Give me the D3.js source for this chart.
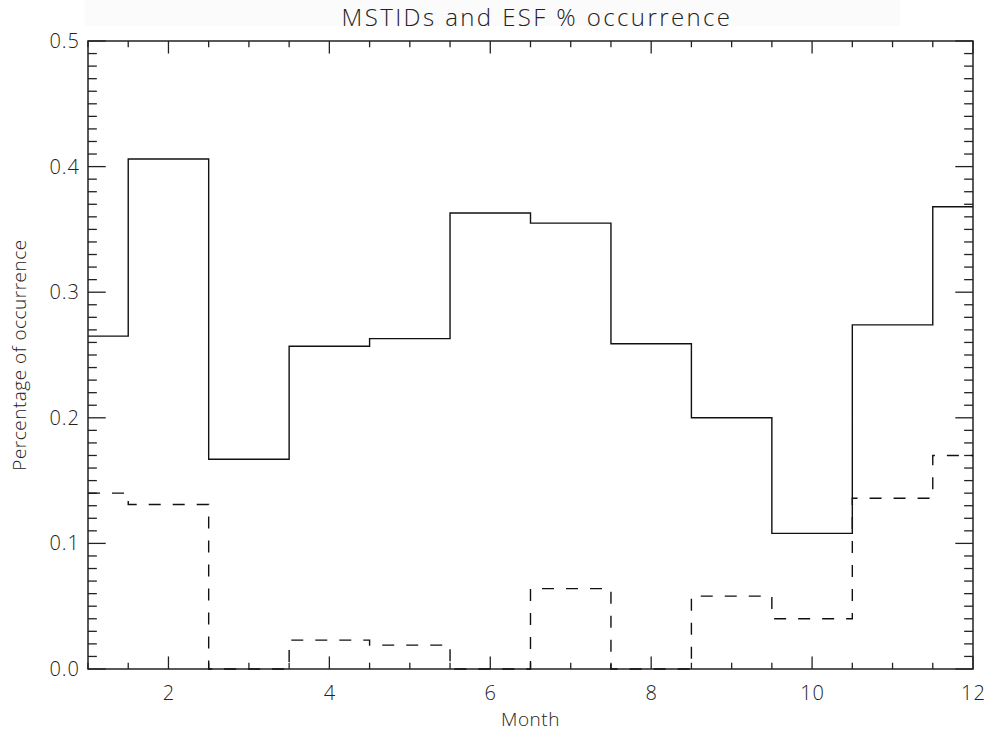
<!DOCTYPE html>
<html>
<head>
<meta charset="utf-8">
<script src="https://cdn.jsdelivr.net/npm/d3@7/dist/d3.min.js"></script>
<style>
  html, body { margin: 0; padding: 0; background: #ffffff; }
  svg { display: block; }
  text { font-family: "Open Sans", "Liberation Sans", sans-serif; font-weight: 300; fill: #222; }
</style>
</head>
<body>
<svg id="chart" width="987" height="732"></svg>
<script>
// ---- Data ----
const months = [1, 2, 3, 4, 5, 6, 7, 8, 9, 10, 11, 12];
const mstids = [0.265, 0.406, 0.167, 0.257, 0.263, 0.363, 0.355, 0.259, 0.200, 0.108, 0.274, 0.368];
const esf = [0.140, 0.131, 0.000, 0.023, 0.019, 0.000, 0.064, 0.000, 0.058, 0.040, 0.136, 0.170];
const xTickValues = [2, 4, 6, 8, 10, 12];
const yTickValues = [0.0, 0.1, 0.2, 0.3, 0.4, 0.5];
const titleText = "MSTIDs and ESF % occurrence";
const xLabel = "Month";
const yLabel = "Percentage of occurrence";

// ---- Layout ----
const svg = d3.select("#chart");
const pLeft = 88, pRight = 973, pTop = 41, pBottom = 669;
const x = d3.scaleLinear().domain([1, 12]).range([pLeft, pRight]);
const y = d3.scaleLinear().domain([0, 0.5]).range([pBottom, pTop]);
const plotW = pRight - pLeft, plotH = pBottom - pTop;
const xMajLen = 0.02 * plotH, yMajLen = 0.02 * plotW;

// faint title band
svg.append("rect").attr("x", 85).attr("y", 0).attr("width", 815).attr("height", 26).attr("fill", "#fbfbfb");

const axisColor = "#222";
const g = svg.append("g");

// Minor ticks
const xMinor = d3.range(1, 12.001, 0.5);
const yMinor = d3.range(0, 0.5001, 0.01);

xMinor.forEach(v => {
  const isMaj = Math.abs(v / 2 - Math.round(v / 2)) < 1e-6;
  const len = isMaj ? xMajLen : xMajLen / 2;
  g.append("line").attr("x1", x(v)).attr("x2", x(v)).attr("y1", pBottom).attr("y2", pBottom - len)
    .attr("stroke", axisColor).attr("stroke-width", 1.3);
  g.append("line").attr("x1", x(v)).attr("x2", x(v)).attr("y1", pTop).attr("y2", pTop + len)
    .attr("stroke", axisColor).attr("stroke-width", 1.3);
});
yMinor.forEach(v => {
  const isMaj = Math.abs(v * 10 - Math.round(v * 10)) < 1e-6;
  const len = isMaj ? yMajLen : yMajLen / 2;
  g.append("line").attr("x1", pLeft).attr("x2", pLeft + len).attr("y1", y(v)).attr("y2", y(v))
    .attr("stroke", axisColor).attr("stroke-width", 1.3);
  g.append("line").attr("x1", pRight).attr("x2", pRight - len).attr("y1", y(v)).attr("y2", y(v))
    .attr("stroke", axisColor).attr("stroke-width", 1.3);
});

// Frame
g.append("rect").attr("x", pLeft).attr("y", pTop).attr("width", plotW).attr("height", plotH)
  .attr("fill", "none").attr("stroke", axisColor).attr("stroke-width", 1.5);

// Tick labels via d3 axes (tick lines hidden, labels kept)
const xAxis = d3.axisBottom(x).tickValues(xTickValues).tickSize(0).tickPadding(17).tickFormat(d3.format("d"));
const xa = svg.append("g").attr("transform", `translate(0,${pBottom})`).call(xAxis);
xa.select(".domain").remove();
xa.selectAll("text").attr("font-size", 20).attr("font-family", null).style("fill", "#222")
  .style("letter-spacing", "1px");

const yAxis = d3.axisLeft(y).tickValues(yTickValues).tickSize(0).tickPadding(8).tickFormat(d3.format(".1f"));
const ya = svg.append("g").attr("transform", `translate(${pLeft},0)`).call(yAxis);
ya.select(".domain").remove();
ya.selectAll("text").attr("font-size", 20).attr("font-family", null).style("fill", "#222")
  .style("letter-spacing", "1px");

// Step lines
const line = d3.line().x((d, i) => x(months[i])).y(d => y(d)).curve(d3.curveStep);
svg.append("path").datum(mstids).attr("d", line).attr("fill", "none")
  .attr("stroke", "#111").attr("stroke-width", 1.4);
svg.append("path").datum(esf).attr("d", line).attr("fill", "none")
  .attr("stroke", "#111").attr("stroke-width", 1.4).attr("stroke-dasharray", "12,12");

// Title and labels
svg.append("text").attr("x", 537).attr("y", 26).attr("text-anchor", "middle")
  .attr("font-size", 24).style("letter-spacing", "2.4px").text(titleText);
svg.append("text").attr("x", (pLeft + pRight) / 2).attr("y", 726).attr("text-anchor", "middle")
  .attr("font-size", 19).style("letter-spacing", "0.5px").text(xLabel);
svg.append("text").attr("transform", `translate(26,${(pTop + pBottom) / 2}) rotate(-90)`)
  .attr("text-anchor", "middle").attr("font-size", 19).style("letter-spacing", "0.5px").text(yLabel);
</script>
</body>
</html>
